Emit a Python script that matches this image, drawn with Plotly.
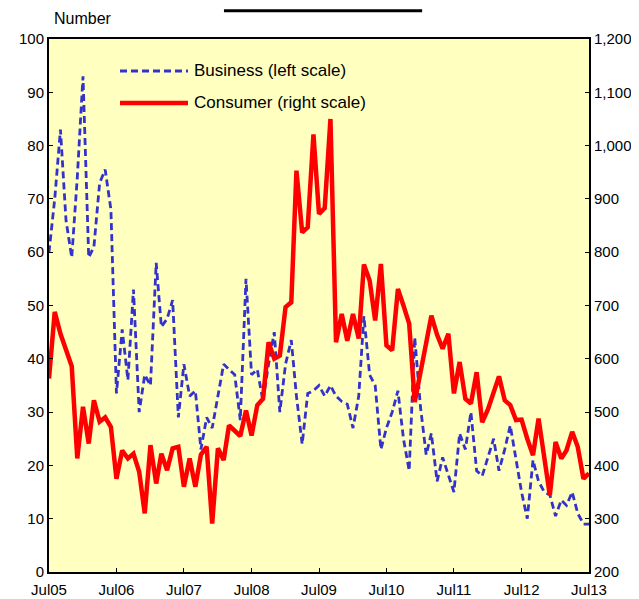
import pandas as pd
import plotly.graph_objects as go

months = pd.date_range("2005-07-01", periods=97, freq="MS")

business = [60, 70, 83, 66, 59, 74, 93, 59, 61, 73, 75.5, 68,
            33.5, 45.5, 36, 53, 30, 37, 35, 58, 46, 47.5, 51, 29,
            39, 33, 34, 23, 29, 27, 33, 39, 38, 37, 28.5, 55,
            37, 38, 32, 39, 45, 30, 39, 43.5, 33, 24, 33.5, 34,
            35, 33, 35, 33, 32, 31.5, 27, 33, 48, 37, 35, 23,
            27, 30, 34, 25, 19, 44, 31, 22, 26, 17, 21.5, 18,
            15, 26, 23, 30, 19, 18, 21.5, 25, 19, 23, 27.5, 21,
            15, 10, 21, 17, 15, 14.5, 10.5, 13.5, 12.5, 15, 11, 9, 9]

consumer = [563, 688, 647, 617, 586, 413, 510, 441, 522, 482, 490, 472,
            375, 428, 413, 422, 388, 310, 438, 366, 422, 391, 432, 435,
            360, 413, 360, 420, 435, 291, 432, 410, 475, 465, 455, 503,
            456, 513, 525, 631, 600, 606, 697, 706, 953, 837, 847, 1021,
            872, 883, 1050, 631, 684, 634, 684, 638, 777, 747, 672, 778,
            625, 616, 731, 700, 666, 519, 570, 630, 681, 645, 619, 647,
            535, 594, 525, 516, 575, 481, 505, 540, 567, 522, 513, 485,
            486, 450, 419, 488, 415, 344, 444, 413, 428, 463, 435, 375, 385]

tick_dates = ["2005-07-01", "2006-07-01", "2007-07-01", "2008-07-01", "2009-07-01",
              "2010-07-01", "2011-07-01", "2012-07-01", "2013-07-01"]
tick_labels = ["Jul05", "Jul06", "Jul07", "Jul08", "Jul09", "Jul10", "Jul11", "Jul12", "Jul13"]

series_names = ["Business (left scale)", "Consumer (right scale)"]

BLUE = "#3333CC"
RED = "#FF0000"
FONT = "Liberation Sans, Arial, sans-serif"

fig = go.Figure()
fig.add_trace(go.Scatter(x=months, y=business, mode="lines", name=series_names[0],
                         line=dict(color=BLUE, width=2.8, dash="7px,4px"), yaxis="y"))
fig.add_trace(go.Scatter(x=months, y=consumer, mode="lines", name=series_names[1],
                         line=dict(color=RED, width=4.5), yaxis="y2"))

fig.update_layout(
    width=639, height=599,
    margin=dict(l=41, r=58, t=31, b=35),
    paper_bgcolor="white", plot_bgcolor="#FFFFC0",
    showlegend=False,
    font=dict(family=FONT, size=15, color="black"),
    xaxis=dict(type="date", range=["2005-07-01", "2013-07-01"],
               tickvals=tick_dates, ticktext=tick_labels,
               showline=True, linecolor="black", linewidth=2, mirror=True,
               ticks="inside", ticklen=4, tickcolor="black", showgrid=False, zeroline=False,
               ticklabelstandoff=3, automargin=False,
               tickfont=dict(size=15)),
    yaxis=dict(range=[0, 100], dtick=10, showline=True, linecolor="black", linewidth=2,
               ticks="inside", ticklen=4, tickcolor="black", showgrid=False, zeroline=False,
               automargin=False, tickfont=dict(size=15)),
    yaxis2=dict(range=[200, 1200], dtick=100, overlaying="y", side="right",
                tickformat=",d", showline=True, linecolor="black", linewidth=2,
                ticks="inside", ticklen=4, tickcolor="black", showgrid=False, zeroline=False,
                automargin=False, tickfont=dict(size=15)),
)

# custom legend
legend_rows = [(0.940, BLUE, "7px,4px", 2.8, series_names[0]),
               (0.880, RED, "solid", 4.5, series_names[1])]
for yp, col, dash, w, txt in legend_rows:
    fig.add_shape(type="line", xref="paper", yref="paper", x0=0.1315, x1=0.2574,
                  y0=yp, y1=yp, line=dict(color=col, width=w, dash=dash))
    fig.add_annotation(xref="paper", yref="paper", x=0.2648, y=yp, text=txt,
                       showarrow=False, xanchor="left", yanchor="middle",
                       font=dict(size=17, family=FONT))

fig.add_annotation(xref="paper", yref="paper", x=0.0056, y=1.039, text="Number",
                   showarrow=False, xanchor="left", yanchor="middle",
                   font=dict(size=16, family=FONT))

# cut-off title underline at the top
fig.add_shape(type="line", xref="paper", yref="paper", x0=0.324, x1=0.691,
              y0=1.053, y1=1.053, line=dict(color="black", width=3))

fig.write_html("out.html")
